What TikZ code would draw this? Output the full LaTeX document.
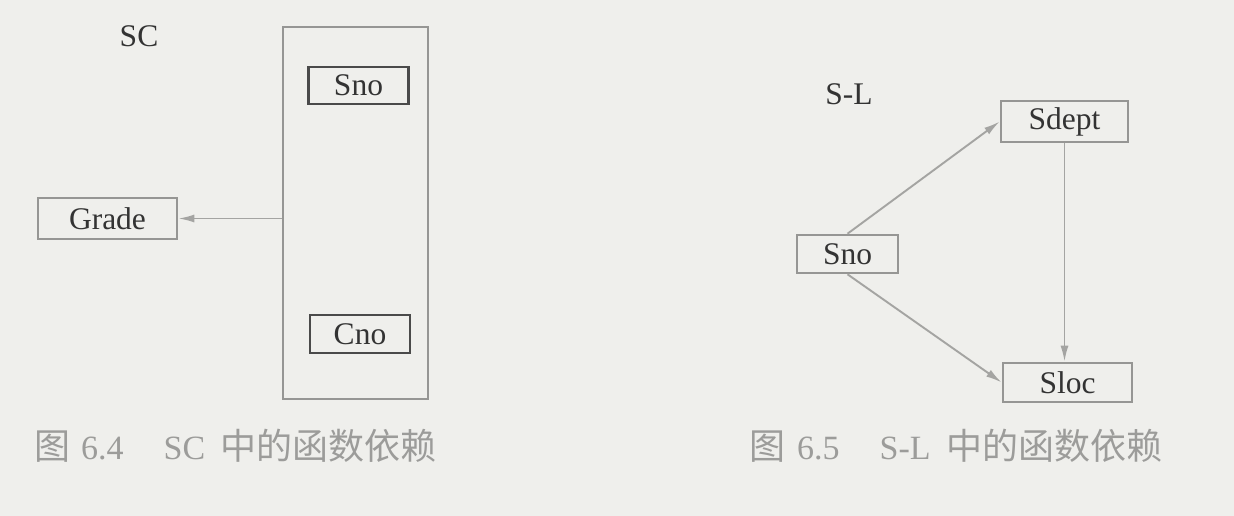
\documentclass[tikz,border=0pt]{standalone}
\usepackage{fontspec}
\setmainfont{Liberation Serif}
\newfontfamily\cjk{Noto Sans CJK SC}
\usetikzlibrary{arrows.meta}
\definecolor{paper}{HTML}{EFEFEC}
\definecolor{boxgray}{HTML}{969694}
\definecolor{boxdark}{HTML}{4A4A4A}
\definecolor{arrowgray}{HTML}{A4A4A2}
\definecolor{inkdark}{HTML}{333333}
\definecolor{capgray}{HTML}{9C9C9A}
\tikzset{
  lbl/.style={font=\fontsize{31.5}{36}\selectfont, text=inkdark, inner sep=0pt},
  graybox/.style={draw=boxgray, line width=2.6pt, rectangle, inner sep=0pt,
    font=\fontsize{31.5}{36}\selectfont, text=inkdark},
  darkbox/.style={draw=boxdark, line width=2.8pt, rectangle, inner sep=0pt,
    font=\fontsize{31.5}{36}\selectfont, text=inkdark},
  groupbox/.style={draw=boxgray, line width=2pt, rectangle, inner sep=0pt},
  fdarrow/.style={draw=arrowgray, line width=1.9pt,
    -{Latex[length=16pt,width=8pt]}},
  caption/.style={font=\fontsize{34}{40}\selectfont, text=capgray, inner sep=0pt, anchor=west}
}
\newcommand{\capcjk}[1]{{\cjk\fontsize{36}{40}\selectfont #1}}
\begin{document}
\begin{tikzpicture}[x=1pt,y=-1pt]
\fill[paper] (0,0) rectangle (1234,516);
\useasboundingbox (0,0) rectangle (1234,516);

% ---- Figure 6.4 ----
\node[lbl] (sclabel) at (139,36) {SC};
\node[groupbox, minimum width=145pt, minimum height=372pt] (scbox) at (355.5,213) {};
\node[darkbox, minimum width=100pt, minimum height=37pt] (snoA) at (358.5,85.5) {Sno};
\node[darkbox, minimum width=100pt, minimum height=38pt] (cno) at (360,334) {Cno};
\node[graybox, minimum width=139pt, minimum height=41pt] (grade) at (107.5,218.5) {Grade};
\draw[fdarrow] (grade.east -| scbox.west) -- (grade.east);
\node[caption] (capA) at (34,446) {\capcjk{图}\hspace{11pt}6.4\hspace{40pt}SC\hspace{15pt}\capcjk{中的函数依赖}};

% ---- Figure 6.5 ----
\node[lbl] (sllabel) at (849,94) {S-L};
\node[graybox, minimum width=127pt, minimum height=41pt] (sdept) at (1064.5,121.5) {Sdept};
\node[graybox, minimum width=101pt, minimum height=38pt] (snoB) at (847.5,254) {Sno};
\node[graybox, minimum width=129pt, minimum height=39pt] (sloc) at (1067.5,382.5) {Sloc};
\draw[fdarrow] (snoB.north) -- (sdept.west);
\draw[fdarrow] (snoB.south) -- (sloc.west);
\draw[fdarrow] (sdept.south) -- (sdept.south |- sloc.north);
\node[caption] (capB) at (749,446) {\capcjk{图}\hspace{12pt}6.5\hspace{40pt}S-L\hspace{16pt}\capcjk{中的函数依赖}};
\end{tikzpicture}
\end{document}
